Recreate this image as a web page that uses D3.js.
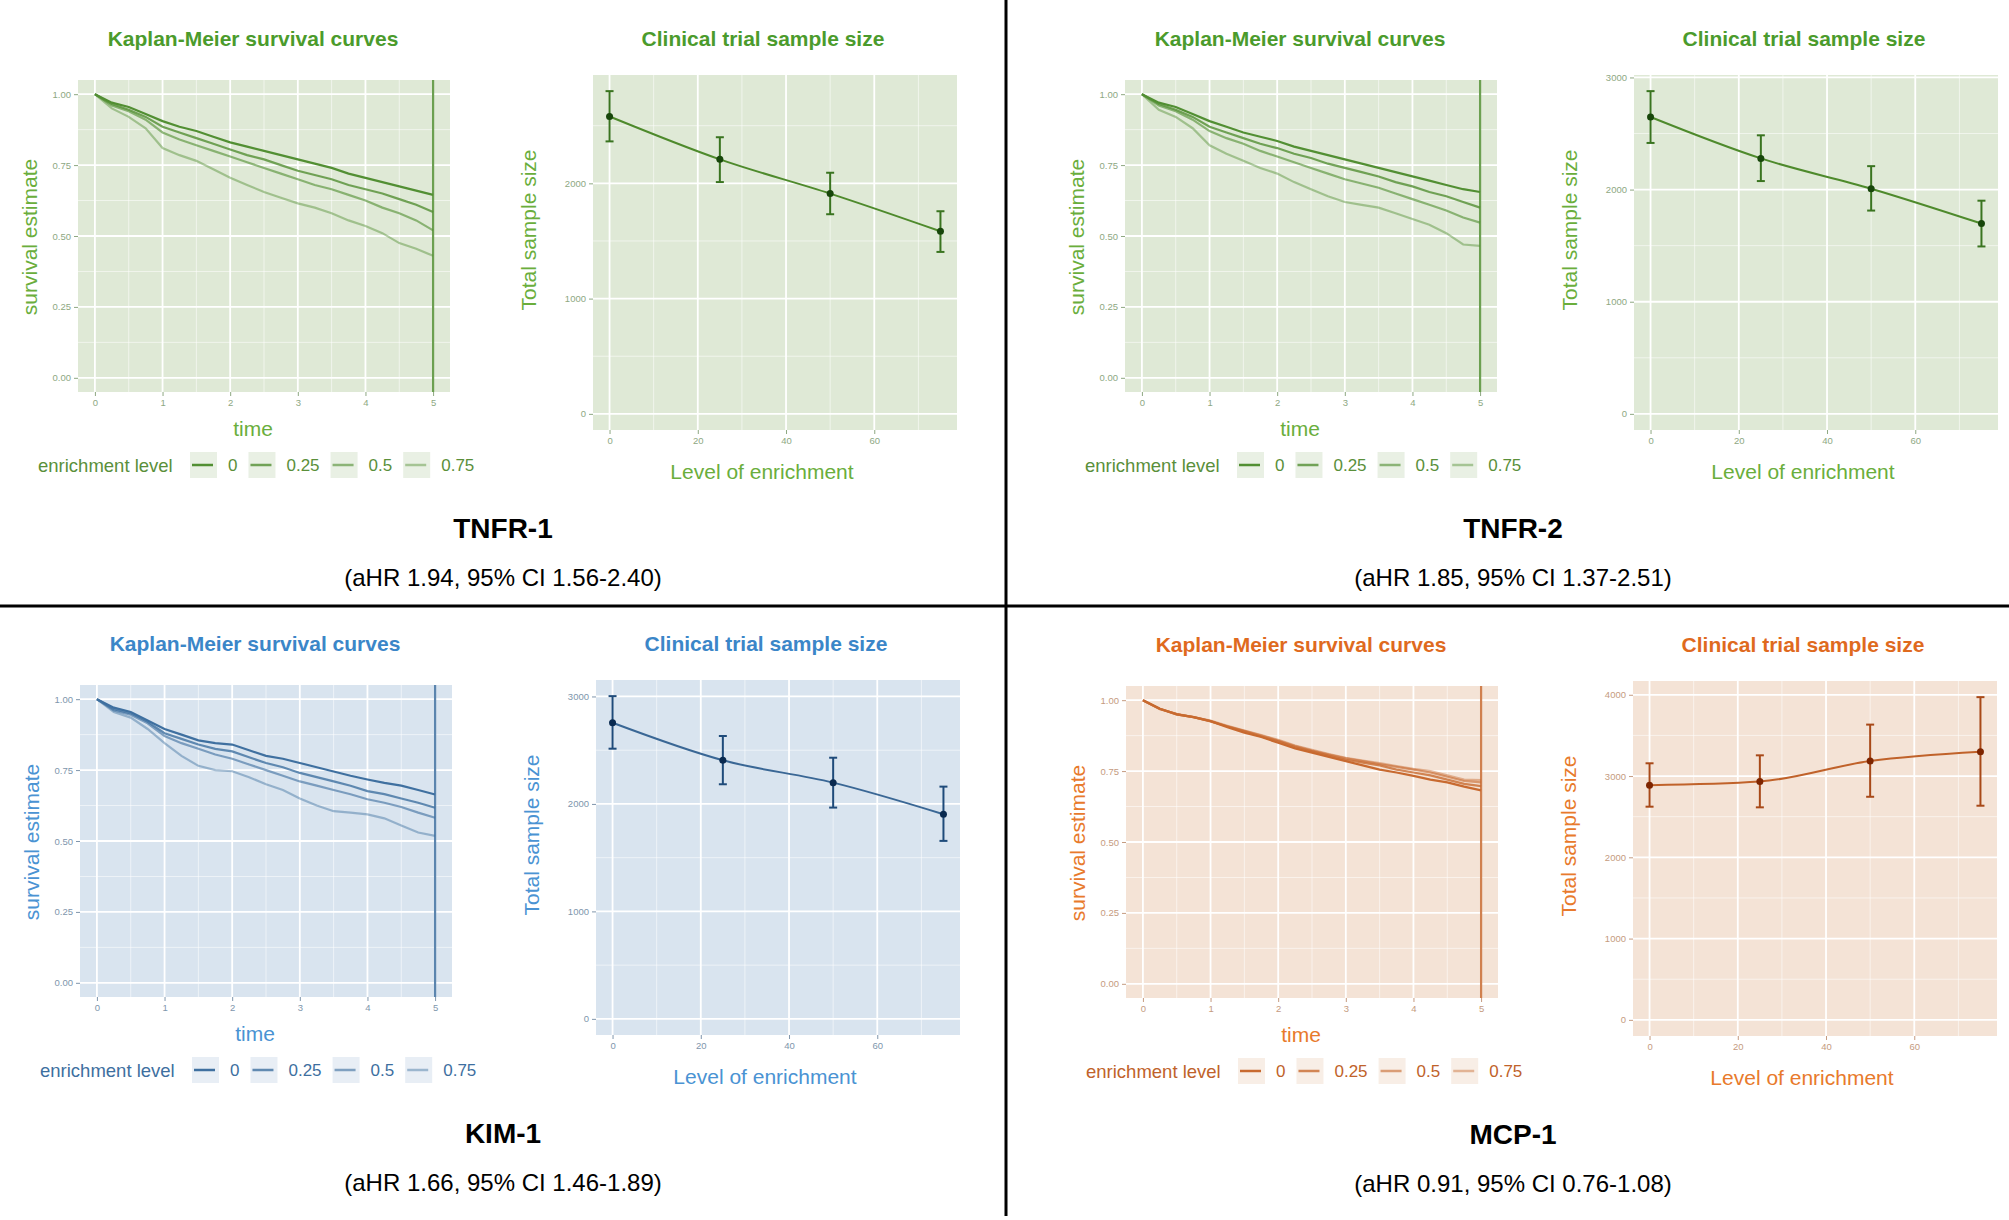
<!DOCTYPE html>
<html>
<head>
<meta charset="utf-8">
<script src="https://cdn.jsdelivr.net/npm/d3@7"></script>
<style>
  body { margin: 0; background: #fff; }
  svg { display: block; }
  text { font-family: "Liberation Sans", Arial, sans-serif; }
</style>
</head>
<body>
<svg id="fig" width="2009" height="1220"></svg>
<script>
// ---- data ----
const markers = ["TNFR-1", "TNFR-2", "KIM-1", "MCP-1"];
const hrText = [
  "(aHR 1.94, 95% CI 1.56-2.40)",
  "(aHR 1.85, 95% CI 1.37-2.51)",
  "(aHR 1.66, 95% CI 1.46-1.89)",
  "(aHR 0.91, 95% CI 0.76-1.08)"
];
const levels = ["0", "0.25", "0.5", "0.75"];
const kmTimes = [0, 0.25, 0.5, 0.75, 1, 1.25, 1.5, 1.75, 2, 2.25, 2.5, 2.75, 3, 3.25, 3.5, 3.75, 4, 4.25, 4.5, 4.75, 5];

// survival estimate per enrichment level (0, 0.25, 0.5, 0.75)
const kmTNFR1 = [
  [1, .97, .955, .93, .905, .885, .87, .85, .83, .815, .80, .785, .77, .755, .74, .72, .705, .69, .675, .66, .645],
  [1, .965, .945, .92, .885, .865, .845, .825, .805, .785, .77, .75, .73, .715, .70, .68, .665, .65, .63, .61, .585],
  [1, .96, .94, .91, .865, .84, .82, .80, .78, .76, .74, .72, .70, .68, .665, .645, .625, .60, .58, .555, .52],
  [1, .95, .92, .88, .81, .785, .765, .735, .705, .68, .655, .635, .615, .60, .58, .555, .535, .51, .475, .455, .43]
];
const kmTNFR2 = [
  [1, .97, .955, .93, .905, .885, .865, .85, .835, .815, .80, .785, .77, .755, .74, .725, .71, .695, .68, .665, .655],
  [1, .965, .945, .92, .885, .865, .845, .825, .81, .79, .775, .755, .74, .725, .71, .69, .675, .655, .64, .62, .60],
  [1, .96, .94, .91, .87, .845, .825, .80, .78, .76, .74, .72, .70, .685, .67, .65, .63, .61, .59, .565, .547],
  [1, .945, .92, .88, .82, .79, .765, .74, .72, .69, .665, .64, .62, .61, .60, .58, .56, .54, .51, .47, .465]
];
const kmKIM1 = [
  [1, .97, .955, .925, .895, .875, .855, .845, .84, .82, .80, .79, .775, .76, .745, .73, .717, .705, .695, .68, .664],
  [1, .965, .95, .92, .88, .86, .84, .825, .816, .795, .775, .76, .74, .725, .71, .695, .676, .665, .65, .635, .617],
  [1, .96, .945, .915, .87, .845, .825, .805, .79, .77, .75, .73, .71, .695, .68, .665, .647, .635, .62, .60, .582],
  [1, .955, .935, .895, .845, .80, .765, .75, .746, .725, .70, .68, .65, .625, .605, .60, .594, .58, .555, .53, .518]
];
const kmMCP1 = [
  [1, .97, .95, .94, .926, .905, .885, .87, .85, .83, .815, .80, .785, .77, .755, .745, .733, .72, .71, .695, .682],
  [1, .97, .95, .94, .926, .907, .89, .872, .855, .835, .82, .805, .79, .78, .77, .755, .745, .735, .72, .705, .697],
  [1, .968, .952, .94, .925, .908, .892, .875, .858, .838, .822, .808, .795, .785, .775, .765, .755, .745, .73, .715, .71],
  [1, .97, .95, .94, .928, .91, .893, .877, .86, .84, .825, .81, .797, .787, .778, .768, .758, .75, .735, .72, .718]
];

const enrichment = [0, 25, 50, 75];
const ssTNFR1 = [2580, 2208, 1911, 1584];
const ssTNFR1Lo = [2364, 2011, 1732, 1405];
const ssTNFR1Hi = [2800, 2400, 2092, 1758];
const ssTNFR2 = [2647, 2278, 2008, 1697];
const ssTNFR2Lo = [2416, 2076, 1813, 1493];
const ssTNFR2Hi = [2878, 2484, 2209, 1901];
const ssKIM1 = [2755, 2406, 2198, 1904];
const ssKIM1Lo = [2514, 2183, 1966, 1656];
const ssKIM1Hi = [3003, 2632, 2430, 2161];
const ssMCP1 = [2888, 2933, 3185, 3299];
const ssMCP1Lo = [2623, 2615, 2745, 2635];
const ssMCP1Hi = [3157, 3255, 3633, 3971];

const kmData = [kmTNFR1, kmTNFR2, kmKIM1, kmMCP1];
const ssData = [
  [ssTNFR1, ssTNFR1Lo, ssTNFR1Hi],
  [ssTNFR2, ssTNFR2Lo, ssTNFR2Hi],
  [ssKIM1, ssKIM1Lo, ssKIM1Hi],
  [ssMCP1, ssMCP1Lo, ssMCP1Hi]
];

// ---- styling ----
const green = {title: "#4b9b2c", axisTitle: "#6aae3c", tick: "#8ea882", panel: "#dfe9d6", km: "#528f33",
  legend: "#5a8f3a", keyBg: "#e9f0e4", line: "#4e8a2c", err: "#3a7420", pt: "#17460a"};
const blue = {title: "#3b86c8", axisTitle: "#4a93d3", tick: "#8096ac", panel: "#d9e4ef", km: "#3f70a0",
  legend: "#3e6f9f", keyBg: "#e8eef5", line: "#3a6795", err: "#1f4b7a", pt: "#0a2a50"};
const orange = {title: "#df6a1e", axisTitle: "#e87a2c", tick: "#c59b80", panel: "#f4e3d6", km: "#c86a30",
  legend: "#c0622a", keyBg: "#f8eee6", line: "#c0622a", err: "#a84918", pt: "#7e2500"};
const themes = [green, green, blue, orange];
const alphas = [1, 0.8, 0.62, 0.45];

// quadrant offsets: km panel x, sample panel x, y, caption x
const quads = [
  {kx: 0, sx: 0, oy: 0, tx: 0},
  {kx: 1047, sx: 1041, oy: 0, tx: 1010},
  {kx: 2, sx: 3, oy: 605, tx: 0},
  {kx: 1048, sx: 1040, oy: 606, tx: 1010}
];

const svg = d3.select("#fig");
svg.append("rect").attr("width", 2009).attr("height", 1220).attr("fill", "#fff");

function grid(g, xs, ys, w, h, sx, sy) {
  xs.minor.forEach(v => g.append("line").attr("x1", sx(v)).attr("x2", sx(v)).attr("y1", 0).attr("y2", h)
    .attr("stroke", "#fff").attr("stroke-opacity", 0.55).attr("stroke-width", 1));
  ys.minor.forEach(v => g.append("line").attr("y1", sy(v)).attr("y2", sy(v)).attr("x1", 0).attr("x2", w)
    .attr("stroke", "#fff").attr("stroke-opacity", 0.55).attr("stroke-width", 1));
  xs.major.forEach(v => g.append("line").attr("x1", sx(v)).attr("x2", sx(v)).attr("y1", 0).attr("y2", h)
    .attr("stroke", "#fff").attr("stroke-width", 1.8));
  ys.major.forEach(v => g.append("line").attr("y1", sy(v)).attr("y2", sy(v)).attr("x1", 0).attr("x2", w)
    .attr("stroke", "#fff").attr("stroke-width", 1.8));
}

function styleAxis(g, th) {
  g.select(".domain").remove();
  g.selectAll(".tick line").attr("stroke", th.tick);
  g.selectAll(".tick text").attr("fill", th.tick).attr("font-size", 9.5);
}

markers.forEach((name, i) => {
  const th = themes[i], q = quads[i];

  // ---------- Kaplan-Meier panel ----------
  const kw = 372, kh = 312;
  const km = svg.append("g").attr("transform", `translate(${78 + q.kx},${80 + q.oy})`);
  const x = d3.scaleLinear().domain([-0.25, 5.25]).range([0, kw]);
  const y = d3.scaleLinear().domain([-0.05, 1.05]).range([kh, 0]);
  km.append("rect").attr("width", kw).attr("height", kh).attr("fill", th.panel);
  grid(km, {major: [0, 1, 2, 3, 4, 5], minor: [0.5, 1.5, 2.5, 3.5, 4.5]},
    {major: [0, .25, .5, .75, 1], minor: [.125, .375, .625, .875]}, kw, kh, x, y);

  const line = d3.line().x((d, j) => x(kmTimes[j])).y(d => y(d));
  kmData[i].forEach((curve, k) => {
    km.append("path").datum(curve).attr("d", line).attr("fill", "none")
      .attr("stroke", th.km).attr("stroke-opacity", alphas[k]).attr("stroke-width", 2.2);
  });
  km.append("line").attr("x1", x(5)).attr("x2", x(5)).attr("y1", 0).attr("y2", kh)
    .attr("stroke", th.km).attr("stroke-opacity", 0.85).attr("stroke-width", 2.2);

  km.append("g").call(d3.axisLeft(y).tickValues([0, .25, .5, .75, 1]).tickFormat(d3.format(".2f")).tickSize(4).tickPadding(3))
    .call(g => styleAxis(g, th));
  km.append("g").attr("transform", `translate(0,${kh})`)
    .call(d3.axisBottom(x).tickValues([0, 1, 2, 3, 4, 5]).tickFormat(d3.format("d")).tickSize(4).tickPadding(3))
    .call(g => styleAxis(g, th));

  svg.append("text").attr("x", 253 + q.kx).attr("y", 38 + q.oy).attr("text-anchor", "middle")
    .attr("dominant-baseline", "central").attr("font-size", 21).attr("font-weight", "bold")
    .attr("fill", th.title).text("Kaplan-Meier survival curves");
  svg.append("text").attr("x", 253 + q.kx).attr("y", 428 + q.oy).attr("text-anchor", "middle")
    .attr("dominant-baseline", "central").attr("font-size", 21).attr("fill", th.axisTitle).text("time");
  svg.append("text").attr("transform", `translate(${29 + q.kx},${237 + q.oy}) rotate(-90)`)
    .attr("text-anchor", "middle").attr("dominant-baseline", "central").attr("font-size", 21)
    .attr("fill", th.axisTitle).text("survival estimate");

  // legend
  const lg = svg.append("g").attr("transform", `translate(${q.kx},${465 + q.oy})`);
  lg.append("text").attr("x", 38).attr("y", 0).attr("dominant-baseline", "central")
    .attr("font-size", 18.5).attr("fill", th.legend).text("enrichment level");
  let cur = 190;
  levels.forEach((lv, k) => {
    lg.append("rect").attr("x", cur).attr("y", -13).attr("width", 27).attr("height", 26).attr("fill", th.keyBg);
    lg.append("line").attr("x1", cur + 2).attr("x2", cur + 23).attr("y1", 0).attr("y2", 0)
      .attr("stroke", th.km).attr("stroke-opacity", alphas[k]).attr("stroke-width", 2.5);
    const t = lg.append("text").attr("x", cur + 38).attr("y", 0).attr("dominant-baseline", "central")
      .attr("font-size", 17).attr("fill", th.legend).text(lv);
    cur = cur + 38 + t.node().getComputedTextLength() + 11;
  });

  // ---------- sample size panel ----------
  const sw = 364, sh = 355;
  const [est, lo, hi] = ssData[i];
  const M = d3.max(hi);
  const sp = svg.append("g").attr("transform", `translate(${593 + q.sx},${75 + q.oy})`);
  const sxs = d3.scaleLinear().domain([-3.75, 78.75]).range([0, sw]);
  const sys = d3.scaleLinear().domain([-0.05 * M, 1.05 * M]).range([sh, 0]);
  sp.append("rect").attr("width", sw).attr("height", sh).attr("fill", th.panel);
  const yMajor = d3.range(0, 1.05 * M, 1000);
  const yMinor = d3.range(500, 1.05 * M, 1000);
  grid(sp, {major: [0, 20, 40, 60], minor: [10, 30, 50, 70]}, {major: yMajor, minor: yMinor}, sw, sh, sxs, sys);

  sp.append("path").datum(est)
    .attr("d", d3.line().x((d, j) => sxs(enrichment[j])).y(d => sys(d)).curve(d3.curveMonotoneX))
    .attr("fill", "none").attr("stroke", th.line).attr("stroke-width", 2);
  enrichment.forEach((e, j) => {
    const cx = sxs(e);
    sp.append("line").attr("x1", cx).attr("x2", cx).attr("y1", sys(lo[j])).attr("y2", sys(hi[j]))
      .attr("stroke", th.err).attr("stroke-width", 2);
    [lo[j], hi[j]].forEach(v => sp.append("line").attr("x1", cx - 4).attr("x2", cx + 4)
      .attr("y1", sys(v)).attr("y2", sys(v)).attr("stroke", th.err).attr("stroke-width", 2));
    sp.append("circle").attr("cx", cx).attr("cy", sys(est[j])).attr("r", 3.5).attr("fill", th.pt);
  });

  sp.append("g").call(d3.axisLeft(sys).tickValues(yMajor).tickFormat(d3.format("d")).tickSize(4).tickPadding(3))
    .call(g => styleAxis(g, th));
  sp.append("g").attr("transform", `translate(0,${sh})`)
    .call(d3.axisBottom(sxs).tickValues([0, 20, 40, 60]).tickSize(4).tickPadding(3))
    .call(g => styleAxis(g, th));

  svg.append("text").attr("x", 763 + q.sx).attr("y", 38 + q.oy).attr("text-anchor", "middle")
    .attr("dominant-baseline", "central").attr("font-size", 21).attr("font-weight", "bold")
    .attr("fill", th.title).text("Clinical trial sample size");
  svg.append("text").attr("x", 762 + q.sx).attr("y", 471 + q.oy).attr("text-anchor", "middle")
    .attr("dominant-baseline", "central").attr("font-size", 21).attr("fill", th.axisTitle).text("Level of enrichment");
  svg.append("text").attr("transform", `translate(${528 + q.sx},${230 + q.oy}) rotate(-90)`)
    .attr("text-anchor", "middle").attr("dominant-baseline", "central").attr("font-size", 21)
    .attr("fill", th.axisTitle).text("Total sample size");

  // marker name and hazard ratio
  svg.append("text").attr("x", 503 + q.tx).attr("y", 528 + q.oy).attr("text-anchor", "middle")
    .attr("dominant-baseline", "central").attr("font-size", 28).attr("font-weight", "bold")
    .attr("fill", "#000").text(name);
  svg.append("text").attr("x", 503 + q.tx).attr("y", 577 + q.oy).attr("text-anchor", "middle")
    .attr("dominant-baseline", "central").attr("font-size", 24).attr("fill", "#000").text(hrText[i]);
});

// dividers
svg.append("line").attr("x1", 0).attr("x2", 2009).attr("y1", 606).attr("y2", 606)
  .attr("stroke", "#000").attr("stroke-width", 3);
svg.append("line").attr("x1", 1006).attr("x2", 1006).attr("y1", 0).attr("y2", 1216)
  .attr("stroke", "#000").attr("stroke-width", 3);
</script>
</body>
</html>
